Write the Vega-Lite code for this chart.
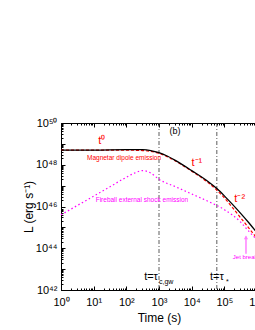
{
  "$schema": "https://vega.github.io/schema/vega-lite/v6.json",
  "autosize": "none",
  "width": 196,
  "height": 167,
  "padding": {"left": 61, "top": 123, "right": 0, "bottom": 40},
  "background": "white",
  "config": {
    "view": {"stroke": "black", "strokeWidth": 1},
    "font": "Liberation Sans",
    "axis": {"grid": false, "domainColor": "black", "tickColor": "black", "labelColor": "black", "titleColor": "black", "labelFont": "Liberation Sans", "titleFont": "Liberation Sans", "titleFontWeight": "normal", "labelOverlap": false, "labelFlush": false}
  },
  "resolve": {"axis": {"x": "independent"}},
  "datasets": {
    "black": [
      {"t": 1, "L": 5.01e48}, {"t": 10, "L": 5.01e48}, {"t": 100, "L": 5.25e48},
      {"t": 316, "L": 5.25e48}, {"t": 562, "L": 4.79e48}, {"t": 1000, "L": 3.80e48},
      {"t": 1778, "L": 2.63e48}, {"t": 3162, "L": 1.62e48}, {"t": 10000, "L": 5.25e47},
      {"t": 31623, "L": 1.58e47}, {"t": 58900, "L": 7.24e46}, {"t": 100000, "L": 3.24e46},
      {"t": 177800, "L": 1.26e46}, {"t": 316200, "L": 4.68e45}, {"t": 562300, "L": 1.66e45},
      {"t": 1000000, "L": 5.50e44}
    ],
    "red": [
      {"t": 1, "L": 5.01e48}, {"t": 10, "L": 5.01e48}, {"t": 100, "L": 5.01e48},
      {"t": 316, "L": 4.79e48}, {"t": 562, "L": 4.37e48}, {"t": 1000, "L": 3.55e48},
      {"t": 1778, "L": 2.45e48}, {"t": 3162, "L": 1.51e48}, {"t": 10000, "L": 4.90e47},
      {"t": 31623, "L": 1.41e47}, {"t": 58900, "L": 6.03e46}, {"t": 100000, "L": 2.57e46},
      {"t": 177800, "L": 8.91e45}, {"t": 316200, "L": 2.88e45}, {"t": 562300, "L": 9.33e44},
      {"t": 1000000, "L": 2.95e44}
    ],
    "fireball": [
      {"t": 1, "L": 3.98e45}, {"t": 3.16, "L": 1.12e46}, {"t": 10, "L": 3.16e46},
      {"t": 31.6, "L": 8.91e46}, {"t": 100, "L": 2.51e47}, {"t": 178, "L": 3.98e47},
      {"t": 316, "L": 5.25e47}, {"t": 562, "L": 3.98e47}, {"t": 1000, "L": 2.00e47},
      {"t": 3162, "L": 8.91e46}, {"t": 10000, "L": 3.98e46}, {"t": 31623, "L": 1.78e46},
      {"t": 100000, "L": 7.08e45}, {"t": 316200, "L": 1.78e45}, {"t": 501000, "L": 7.94e44},
      {"t": 1000000, "L": 2.51e44}
    ],
    "vlines": [{"t": 1000}, {"t": 58900}]
  },
  "layer": [
    {
      "data": {"name": "vlines"},
      "mark": {"type": "rule", "color": "#333333", "strokeWidth": 0.8, "strokeDash": [4, 2, 1, 2]},
      "encoding": {
        "x": {"field": "t", "type": "quantitative", "scale": {"type": "log", "domain": [1, 1000000], "nice": false},
          "axis": {
            "orient": "top", "title": null, "labels": false, "domain": false,
            "values": [1,2,3,4,5,6,7,8,9,10,20,30,40,50,60,70,80,90,100,200,300,400,500,600,700,800,900,1000,2000,3000,4000,5000,6000,7000,8000,9000,10000,20000,30000,40000,50000,60000,70000,80000,90000,100000,200000,300000,400000,500000,600000,700000,800000,900000,1000000],
            "tickSize": {"condition": {"test": "abs(log(datum.value)/LN10 - round(log(datum.value)/LN10)) < 0.01", "value": -4}, "value": -2}
          }}
      }
    },
    {
      "data": {"name": "fireball"},
      "mark": {"type": "line", "color": "#ff00ff", "strokeWidth": 1.2, "strokeDash": [1.5, 2.5], "interpolate": "monotone"},
      "encoding": {
        "x": {"field": "t", "type": "quantitative",
          "axis": {
            "orient": "bottom",
            "title": "Time (s)", "titleFontSize": 12, "titlePadding": 3,
            "values": [1,2,3,4,5,6,7,8,9,10,20,30,40,50,60,70,80,90,100,200,300,400,500,600,700,800,900,1000,2000,3000,4000,5000,6000,7000,8000,9000,10000,20000,30000,40000,50000,60000,70000,80000,90000,100000,200000,300000,400000,500000,600000,700000,800000,900000,1000000],
            "labelExpr": "abs(log(datum.value)/LN10 - round(log(datum.value)/LN10)) < 0.01 ? '10' + ['⁰','¹','²','³','⁴','⁵','⁶','⁷','⁸','⁹'][round(log(datum.value)/LN10)] : ''",
            "labelFontSize": 11, "labelPadding": 10,
            "tickSize": {"condition": {"test": "abs(log(datum.value)/LN10 - round(log(datum.value)/LN10)) < 0.01", "value": -4}, "value": -2}
          }},
        "y": {"field": "L", "type": "quantitative", "scale": {"type": "log", "domain": [1e42, 1e50], "nice": false},
          "axis": {
            "title": "L (erg s⁻¹)", "titleFontSize": 12, "titlePadding": 0,
            "values": [1e42,2e42,3e42,4e42,5e42,6e42,7e42,8e42,9e42,1e43,2e43,3e43,4e43,5e43,6e43,7e43,8e43,9e43,1e44,2e44,3e44,4e44,5e44,6e44,7e44,8e44,9e44,1e45,2e45,3e45,4e45,5e45,6e45,7e45,8e45,9e45,1e46,2e46,3e46,4e46,5e46,6e46,7e46,8e46,9e46,1e47,2e47,3e47,4e47,5e47,6e47,7e47,8e47,9e47,1e48,2e48,3e48,4e48,5e48,6e48,7e48,8e48,9e48,1e49,2e49,3e49,4e49,5e49,6e49,7e49,8e49,9e49,1e50],
            "labelExpr": "(abs(log(datum.value)/LN10 - round(log(datum.value)/LN10)) < 0.01 && round(log(datum.value)/LN10) % 2 == 0) ? '10' + ['⁰','¹','²','³','⁴','⁵','⁶','⁷','⁸','⁹'][floor(round(log(datum.value)/LN10)/10)] + ['⁰','¹','²','³','⁴','⁵','⁶','⁷','⁸','⁹'][round(log(datum.value)/LN10) % 10] : ''",
            "labelFontSize": 11, "labelPadding": 8,
            "tickSize": {"condition": {"test": "abs(log(datum.value)/LN10 - round(log(datum.value)/LN10)) < 0.01", "value": -4}, "value": -2}
          }}
      }
    },
    {
      "data": {"name": "red"},
      "mark": {"type": "line", "color": "#ff0000", "strokeWidth": 1.2, "strokeDash": [3, 2], "interpolate": "monotone"},
      "encoding": {
        "x": {"field": "t", "type": "quantitative", "axis": null},
        "y": {"field": "L", "type": "quantitative"}
      }
    },
    {
      "data": {"name": "black"},
      "mark": {"type": "line", "color": "black", "strokeWidth": 1.3, "interpolate": "monotone"},
      "encoding": {
        "x": {"field": "t", "type": "quantitative", "axis": null},
        "y": {"field": "L", "type": "quantitative"}
      }
    },
    {
      "data": {"values": [{"t": 460000, "L": 5.5e43, "L2": 3.7e44}]},
      "mark": {"type": "rule", "color": "#ff80ff", "strokeWidth": 1.5},
      "encoding": {
        "x": {"field": "t", "type": "quantitative", "axis": null},
        "y": {"field": "L", "type": "quantitative"},
        "y2": {"field": "L2"}
      }
    },
    {
      "data": {"values": [{"t": 460000, "L": 3.3e44}]},
      "mark": {"type": "point", "shape": "triangle-up", "filled": true, "color": "#ff80ff", "size": 18, "opacity": 1},
      "encoding": {
        "x": {"field": "t", "type": "quantitative", "axis": null},
        "y": {"field": "L", "type": "quantitative"}
      }
    },
    {
      "data": {"values": [
        {"t": 17.8, "L": 1.4e49, "label": "t⁰"},
        {"t": 14454, "L": 1.26e48, "label": "t⁻¹"},
        {"t": 295000, "L": 2.4e46, "label": "t⁻²"}
      ]},
      "mark": {"type": "text", "color": "#ff0000", "fontSize": 11, "align": "center", "baseline": "middle"},
      "encoding": {
        "x": {"field": "t", "type": "quantitative", "axis": null},
        "y": {"field": "L", "type": "quantitative"},
        "text": {"field": "label"}
      }
    },
    {
      "data": {"values": [{"t": 85, "L": 2.14e48, "label": "Magnetar dipole emission"}]},
      "mark": {"type": "text", "color": "#ff0000", "fontSize": 6.5, "align": "center", "baseline": "middle"},
      "encoding": {
        "x": {"field": "t", "type": "quantitative", "axis": null},
        "y": {"field": "L", "type": "quantitative"},
        "text": {"field": "label"}
      }
    },
    {
      "data": {"values": [{"t": 300, "L": 1.95e46, "label": "Fireball external shock emission"}]},
      "mark": {"type": "text", "color": "#ff00ff", "fontSize": 6.5, "align": "center", "baseline": "middle"},
      "encoding": {
        "x": {"field": "t", "type": "quantitative", "axis": null},
        "y": {"field": "L", "type": "quantitative"},
        "text": {"field": "label"}
      }
    },
    {
      "data": {"values": [{"t": 182000, "L": 3.7e43, "label": "Jet break"}]},
      "mark": {"type": "text", "color": "#ff00ff", "fontSize": 6, "align": "left", "baseline": "middle"},
      "encoding": {
        "x": {"field": "t", "type": "quantitative", "axis": null},
        "y": {"field": "L", "type": "quantitative"},
        "text": {"field": "label"}
      }
    },
    {
      "data": {"values": [{"t": 3090, "L": 4.2e49, "label": "(b)"}]},
      "mark": {"type": "text", "color": "black", "fontSize": 9, "align": "center", "baseline": "middle"},
      "encoding": {
        "x": {"field": "t", "type": "quantitative", "axis": null},
        "y": {"field": "L", "type": "quantitative"},
        "text": {"field": "label"}
      }
    },
    {
      "data": {"values": [
        {"t": 930, "L": 4.2e42, "label": "t=τ"}
      ]},
      "mark": {"type": "text", "color": "black", "fontSize": 11, "align": "right", "baseline": "middle"},
      "encoding": {
        "x": {"field": "t", "type": "quantitative", "axis": null},
        "y": {"field": "L", "type": "quantitative"},
        "text": {"field": "label"}
      }
    },
    {
      "data": {"values": [
        {"t": 58900, "L": 4.2e42, "label": "t=τ"}
      ]},
      "mark": {"type": "text", "color": "black", "fontSize": 11, "align": "center", "baseline": "middle"},
      "encoding": {
        "x": {"field": "t", "type": "quantitative", "axis": null},
        "y": {"field": "L", "type": "quantitative"},
        "text": {"field": "label"}
      }
    },
    {
      "data": {"values": [
        {"t": 1000, "L": 2.4e42, "label": "c,gw"},
        {"t": 112000, "L": 2.4e42, "label": "*"}
      ]},
      "mark": {"type": "text", "color": "black", "fontSize": 7, "align": "left", "baseline": "middle"},
      "encoding": {
        "x": {"field": "t", "type": "quantitative", "axis": null},
        "y": {"field": "L", "type": "quantitative"},
        "text": {"field": "label"}
      }
    }
  ]
}
